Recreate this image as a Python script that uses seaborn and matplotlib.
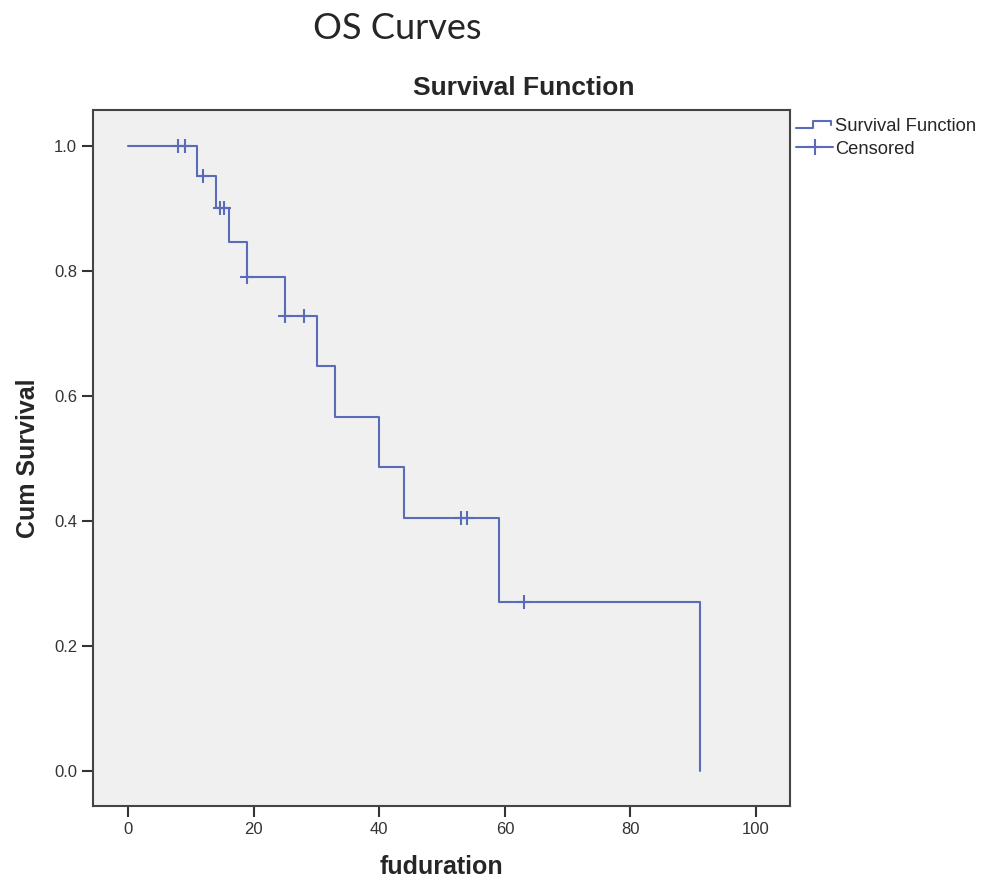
import numpy as np
import pandas as pd
import matplotlib
matplotlib.use("Agg")
import matplotlib.pyplot as plt
from matplotlib.lines import Line2D
from matplotlib.legend_handler import HandlerBase
import seaborn as sns


# Kaplan-Meier steps
step_times = [0, 11, 14, 16, 19, 25, 30, 33, 40, 44, 59, 91]
step_surv = [1.0, 0.952, 0.902, 0.846, 0.790, 0.729, 0.648, 0.567, 0.486, 0.405, 0.270, 0.0]

# censored observations
censor_times = [8, 9, 12, 14.6, 15.2, 19, 25, 28, 53, 54, 63]
censor_surv = [1.0, 1.0, 0.952, 0.902, 0.902, 0.790, 0.729, 0.729, 0.405, 0.405, 0.270]

x_ticks = [0, 20, 40, 60, 80, 100]
y_ticks = [0.0, 0.2, 0.4, 0.6, 0.8, 1.0]

LINE_COLOR = "#5a6cb8"
FONT = ["Liberation Sans", "DejaVu Sans"]


class StepHandler(HandlerBase):
    """Legend key drawn as a little step, like SPSS does it."""
    def create_artists(self, legend, orig_handle, xdescent, ydescent,
                       width, height, fontsize, trans):
        x0 = -xdescent
        y0 = -ydescent
        xs = [x0, x0 + 0.45 * width, x0 + 0.45 * width, x0 + 0.95 * width, x0 + 0.95 * width]
        ys = [y0 + 0.25 * height, y0 + 0.25 * height, y0 + 0.8 * height,
              y0 + 0.8 * height, y0 + 0.45 * height]
        line = Line2D(xs, ys, color=orig_handle.get_color(),
                      lw=orig_handle.get_linewidth())
        line.set_transform(trans)
        return [line]


sns.set_style("ticks", {
    "axes.facecolor": "#f0f0f0",
    "axes.edgecolor": "#444444",
    "xtick.color": "#333333",
    "ytick.color": "#333333",
})
plt.rcParams["font.family"] = FONT

steps = pd.DataFrame({"fuduration": step_times, "surv": step_surv})
cens = pd.DataFrame({"fuduration": censor_times, "surv": censor_surv})

fig = plt.figure(figsize=(9.87, 8.81), dpi=100)
ax = fig.add_axes([0.0942, 0.0851, 0.7062, 0.79])

sns.lineplot(data=steps, x="fuduration", y="surv", drawstyle="steps-post",
             color=LINE_COLOR, linewidth=1.5, ax=ax, legend=False)
sns.scatterplot(data=cens, x="fuduration", y="surv", marker="+", s=110,
                color=LINE_COLOR, linewidth=1.5, ax=ax, legend=False, zorder=3)

ax.set_xlim(-5.6, 105.4)
ax.set_ylim(-0.056, 1.058)
ax.set_xticks(x_ticks)
ax.set_yticks(y_ticks)
ax.set_xticklabels([str(t) for t in x_ticks], fontsize=12)
ax.set_yticklabels([f"{t:.1f}" for t in y_ticks], fontsize=12)
ax.tick_params(axis="both", length=8, width=1.5, color="#333333")
for sp in ax.spines.values():
    sp.set_linewidth(1.5)

ax.set_xlabel("fuduration", fontsize=18, fontweight="bold", labelpad=13)
ax.set_ylabel("Cum Survival", fontsize=18, fontweight="bold", labelpad=10)

fig.text(0.531, 0.900, "Survival Function", fontsize=19, fontweight="bold",
         ha="center", va="center")
fig.text(0.402, 0.968, "OS Curves", fontsize=26,
         family=["Lato", "DejaVu Sans"], ha="center", va="center")

surv_handle = Line2D([], [], color=LINE_COLOR, lw=1.5)
cens_handle = Line2D([0], [0], color=LINE_COLOR, lw=1.5, marker="+",
                     markersize=11, markeredgewidth=1.5)
fig.legend([surv_handle, cens_handle], ["Survival Function", "Censored"],
           handler_map={surv_handle: StepHandler()},
           loc="upper left", bbox_to_anchor=(0.803, 0.870), frameon=False,
           fontsize=13.2, handlelength=2.0, handletextpad=0.1, labelspacing=0.3,
           borderaxespad=0, borderpad=0.2)

fig.savefig("out.png", dpi=100, facecolor="white")
